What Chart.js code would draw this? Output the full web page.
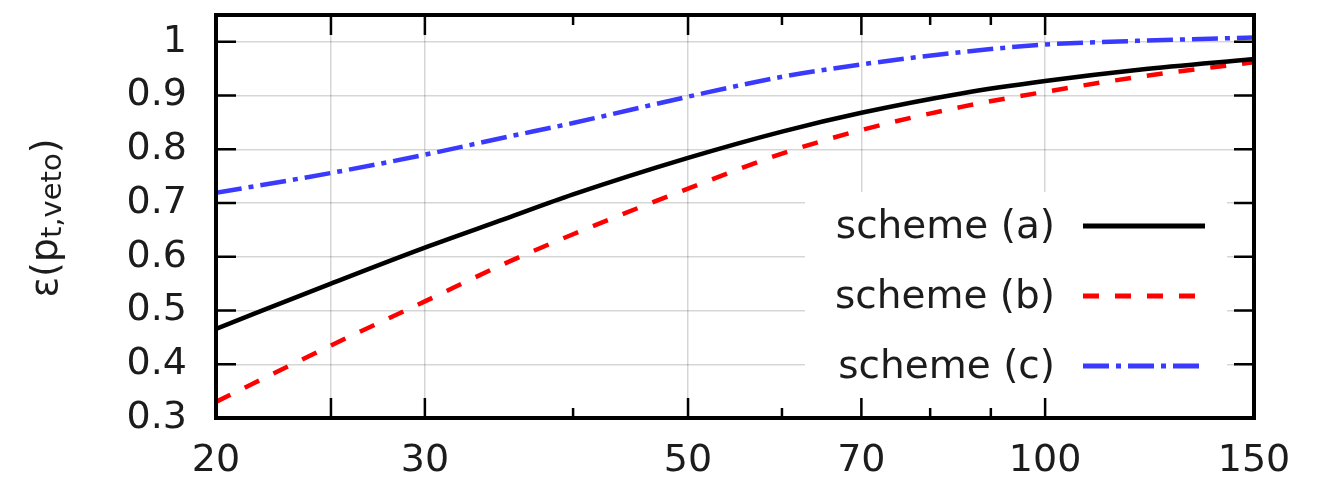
<!DOCTYPE html>
<html>
<head>
<meta charset="utf-8">
<script src="https://cdn.jsdelivr.net/npm/chart.js@4/dist/chart.umd.min.js"></script>
<style>
  html, body { margin: 0; padding: 0; background: #fff; }
  #wrap { width: 1317px; height: 483px; }
</style>
</head>
<body>
<div id="wrap"><canvas id="c" width="1317" height="483"></canvas></div>
<script>
// values (pt_veto on log axis)
const ptVeto = [20, 25, 30, 35, 40, 50, 60, 70, 85, 100, 120, 150];
const schemeA = [0.466, 0.550, 0.617, 0.670, 0.716, 0.784, 0.833, 0.868, 0.904, 0.927, 0.948, 0.968];
const schemeB = [0.330, 0.435, 0.517, 0.587, 0.642, 0.727, 0.792, 0.836, 0.879, 0.907, 0.935, 0.962];
const schemeC = [0.719, 0.756, 0.790, 0.822, 0.849, 0.898, 0.935, 0.958, 0.981, 0.995, 1.002, 1.008];
const seriesNames = ['scheme (a)', 'scheme (b)', 'scheme (c)'];

const xTicks = [20, 25, 30, 40, 50, 60, 70, 80, 90, 100, 150];
const xLabels = [20, 30, 50, 70, 100, 150];
const xGrid = [25, 30, 50, 70, 100];
const xMinor = [40, 60, 80, 90];
const yTicks = [0.3, 0.4, 0.5, 0.6, 0.7, 0.8, 0.9, 1];

const FONT = 'DejaVu Sans';
const INK = '#1c1c1c';
const GRID = 'rgba(0,0,0,0.16)';

const pts = (ys) => ptVeto.map((x, i) => ({ x, y: ys[i] }));

const styles = [
  { color: '#000000', dash: [] },
  { color: '#ff0000', dash: [16, 16] },
  { color: '#3a3aff', dash: [26, 7, 5, 7] }
];

const datasets = [schemeA, schemeB, schemeC].map((ys, i) => ({
  label: seriesNames[i],
  data: pts(ys),
  borderColor: styles[i].color,
  borderDash: styles[i].dash,
  borderWidth: 4.5,
  pointRadius: 0,
  cubicInterpolationMode: 'monotone',
  fill: false
}));

// gnuplot-style key with white box over the grid
const keyBox = {
  id: 'keyBox',
  afterDatasetsDraw(chart) {
    const { ctx, chartArea: a } = chart;
    ctx.save();
    ctx.fillStyle = '#fff';
    ctx.fillRect(805, 192, 1227 - 805, a.bottom - 192);
    const rowsY = [226, 296, 366];
    ctx.font = '39px "' + FONT + '"';
    ctx.fillStyle = INK;
    ctx.textAlign = 'right';
    ctx.textBaseline = 'alphabetic';
    chart.data.datasets.forEach((ds, i) => {
      const y = rowsY[i];
      ctx.fillText(ds.label, 1055, y + 12);
      ctx.beginPath();
      ctx.strokeStyle = ds.borderColor;
      ctx.lineWidth = 5;
      ctx.setLineDash(ds.borderDash);
      ctx.moveTo(1083, y);
      ctx.lineTo(1205, y);
      ctx.stroke();
    });
    ctx.restore();
  }
};

// frame with inward ticks on all four sides, plus the y title
const frame = {
  id: 'frame',
  afterDraw(chart) {
    const { ctx, chartArea: a, scales: { x, y } } = chart;
    ctx.save();
    ctx.strokeStyle = '#000';
    ctx.lineWidth = 2.5;
    ctx.setLineDash([]);
    ctx.beginPath();
    yTicks.forEach(v => {
      const py = y.getPixelForValue(v);
      ctx.moveTo(a.left, py); ctx.lineTo(a.left + 20, py);
      ctx.moveTo(a.right, py); ctx.lineTo(a.right - 20, py);
    });
    xTicks.forEach(v => {
      if (v === 20 || v === 150) return;
      const px = x.getPixelForValue(v);
      const len = xMinor.includes(v) ? 10 : 20;
      ctx.moveTo(px, a.top); ctx.lineTo(px, a.top + len);
      ctx.moveTo(px, a.bottom); ctx.lineTo(px, a.bottom - len);
    });
    ctx.stroke();
    ctx.lineWidth = 4;
    ctx.strokeRect(a.left, a.top, a.right - a.left, a.bottom - a.top);

    // y title: ε(p_{t,veto})
    ctx.translate(57, 218);
    ctx.rotate(-Math.PI / 2);
    ctx.fillStyle = INK;
    ctx.textBaseline = 'alphabetic';
    ctx.textAlign = 'left';
    const big = '38px "' + FONT + '"', small = '29px "' + FONT + '"';
    ctx.font = big;
    const w1 = ctx.measureText('ε(p').width, w3 = ctx.measureText(')').width;
    ctx.font = small;
    const w2 = ctx.measureText('t,veto').width;
    const x0 = -(w1 + w2 + w3) / 2;
    ctx.font = big; ctx.fillText('ε(p', x0, 0);
    ctx.font = small; ctx.fillText('t,veto', x0 + w1, 4);
    ctx.font = big; ctx.fillText(')', x0 + w1 + w2, 0);
    ctx.restore();
  }
};

new Chart(document.getElementById('c'), {
  type: 'line',
  data: { datasets },
  options: {
    responsive: false,
    animation: false,
    layout: { padding: { left: 0, top: 15, right: 63, bottom: 0 } },
    plugins: { legend: { display: false }, tooltip: { enabled: false } },
    scales: {
      x: {
        type: 'logarithmic',
        min: 20, max: 150,
        afterBuildTicks: s => { s.ticks = xTicks.map(v => ({ value: v })); },
        afterFit: s => { s.height = 65; s.paddingLeft = 0; s.paddingRight = 0; },
        border: { display: false },
        grid: {
          drawTicks: false,
          lineWidth: 1.5,
          color: c => (c.tick && xGrid.includes(c.tick.value)) ? GRID : 'rgba(0,0,0,0)'
        },
        ticks: {
          autoSkip: false, maxRotation: 0, padding: 20,
          color: INK, font: { family: FONT, size: 38 },
          callback: v => xLabels.includes(v) ? String(v) : ''
        }
      },
      y: {
        min: 0.3, max: 1.05,
        afterBuildTicks: s => { s.ticks = yTicks.map(v => ({ value: v })); },
        afterFit: s => { s.width = 216; s.paddingTop = 0; s.paddingBottom = 0; },
        border: { display: false },
        grid: {
          drawTicks: false,
          lineWidth: 1.5,
          color: c => (c.tick && c.tick.value > 0.35) ? GRID : 'rgba(0,0,0,0)'
        },
        ticks: {
          padding: 29,
          color: INK, font: { family: FONT, size: 38 },
          callback: v => v === 1 ? '1' : v.toFixed(1)
        }
      }
    }
  },
  plugins: [keyBox, frame]
});
</script>
</body>
</html>
